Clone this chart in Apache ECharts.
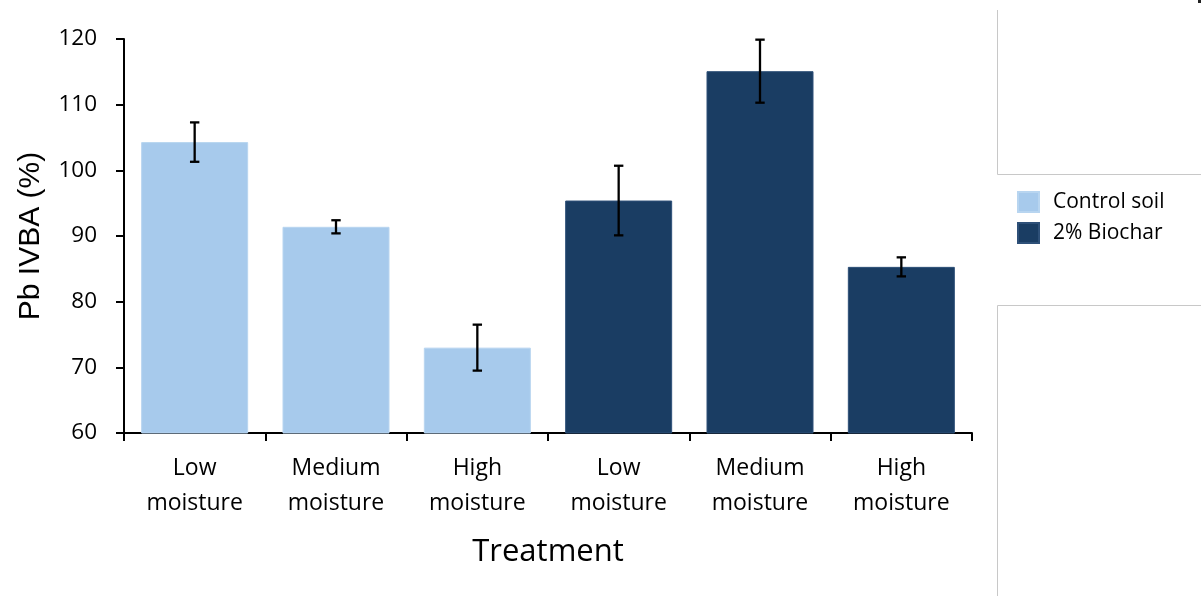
<!DOCTYPE html>
<html>
<head>
<meta charset="utf-8">
<script src="https://cdn.jsdelivr.net/npm/echarts@6/dist/echarts.min.js"></script>
<style>
html,body{margin:0;padding:0;background:#fff;}
#chart{width:1201px;height:596px;}
</style>
</head>
<body>
<div id="chart"></div>
<script>
// ---- data ----
var categories = ['Low\nmoisture', 'Medium\nmoisture', 'High\nmoisture', 'Low\nmoisture', 'Medium\nmoisture', 'High\nmoisture'];
var seriesNames = ['Control soil', '2% Biochar'];
var controlValues = [104.3, 91.4, 73.0, null, null, null];
var controlErrors = [3.0, 1.0, 3.5, null, null, null];
var biocharValues = [null, null, null, 95.4, 115.1, 85.3];
var biocharErrors = [null, null, null, 5.3, 4.8, 1.45];
var yTicks = [60, 70, 80, 90, 100, 110, 120];

// ---- build ----
var COLOR_LIGHT = '#A7CAEC';
var COLOR_DARK = '#1A3D63';

function errData(vals, errs) {
  var out = [];
  for (var i = 0; i < vals.length; i++) {
    if (vals[i] != null && errs[i] != null) {
      out.push([i, vals[i] - errs[i], vals[i] + errs[i]]);
    }
  }
  return out;
}
var errorData = errData(controlValues, controlErrors).concat(errData(biocharValues, biocharErrors));

function renderError(params, api) {
  var i = api.value(0);
  var lo = api.coord([i, api.value(1)]);
  var hi = api.coord([i, api.value(2)]);
  var half = 4.7;
  var st = { stroke: '#000', lineWidth: 2.3 };
  return {
    type: 'group',
    children: [
      { type: 'line', shape: { x1: hi[0], y1: hi[1], x2: lo[0], y2: lo[1] }, style: st },
      { type: 'line', shape: { x1: hi[0] - half, y1: hi[1], x2: hi[0] + half, y2: hi[1] }, style: st },
      { type: 'line', shape: { x1: lo[0] - half, y1: lo[1], x2: lo[0] + half, y2: lo[1] }, style: st }
    ]
  };
}

var chart = echarts.init(document.getElementById('chart'), null, { renderer: 'canvas' });
var labelFont = '"Open Sans", "Noto Sans", sans-serif';
var option = {
  backgroundColor: '#ffffff',
  animation: false,
  grid: { left: 124, right: 229, top: 39, bottom: 163, containLabel: false },
  legend: {
    orient: 'vertical',
    left: 1012,
    top: 186,
    itemWidth: 21,
    itemHeight: 20,
    itemGap: 9,
    icon: 'rect',
    data: seriesNames,
    textStyle: { fontFamily: labelFont, fontSize: 21, color: '#000', lineHeight: 22, padding: [0, 0, 0, 9] }
  },
  xAxis: {
    type: 'category',
    data: categories,
    name: 'Treatment',
    nameLocation: 'middle',
    nameGap: 104,
    nameTextStyle: { fontFamily: labelFont, fontSize: 31, color: '#000' },
    axisLine: { show: true, lineStyle: { color: '#000', width: 2 } },
    axisTick: { show: true, length: 8, lineStyle: { color: '#000', width: 2 } },
    axisLabel: { interval: 0, fontFamily: labelFont, fontSize: 23, lineHeight: 35, color: '#000', margin: 18 }
  },
  yAxis: {
    type: 'value',
    min: yTicks[0],
    max: yTicks[yTicks.length - 1],
    interval: yTicks[1] - yTicks[0],
    name: 'Pb IVBA (%)',
    nameLocation: 'middle',
    nameGap: 78,
    nameTextStyle: { fontFamily: '"Liberation Sans", Arial, sans-serif', fontSize: 30, color: '#000' },
    axisLine: { show: true, lineStyle: { color: '#000', width: 2 } },
    axisTick: { show: true, length: 8, lineStyle: { color: '#000', width: 2 } },
    splitLine: { show: false },
    axisLabel: { fontFamily: labelFont, fontSize: 22.5, color: '#000', margin: 27 }
  },
  series: [
    {
      name: seriesNames[0],
      type: 'bar',
      data: controlValues,
      barWidth: 107,
      barGap: '-100%',
      itemStyle: { color: COLOR_LIGHT, borderColor: '#B8D5F0', borderWidth: 1 }
    },
    {
      name: seriesNames[1],
      type: 'bar',
      data: biocharValues,
      barWidth: 107,
      barGap: '-100%',
      itemStyle: { color: COLOR_DARK, borderColor: '#2E5078', borderWidth: 1 }
    },
    {
      name: 'error',
      type: 'custom',
      renderItem: renderError,
      data: errorData,
      encode: { x: 0, y: [1, 2] },
      z: 10,
      silent: true
    }
  ],
  graphic: [
    { type: 'polyline', shape: { points: [[997.5, 10], [997.5, 174.5], [1201, 174.5]] }, style: { stroke: '#C8C8C8', lineWidth: 1, fill: null } },
    { type: 'polyline', shape: { points: [[1201, 305.5], [997.5, 305.5], [997.5, 596]] }, style: { stroke: '#C8C8C8', lineWidth: 1, fill: null } },
    { type: 'rect', shape: { x: 1198, y: 0, width: 3, height: 3 }, style: { fill: '#222' } }
  ]
};
chart.setOption(option);
</script>
</body>
</html>
